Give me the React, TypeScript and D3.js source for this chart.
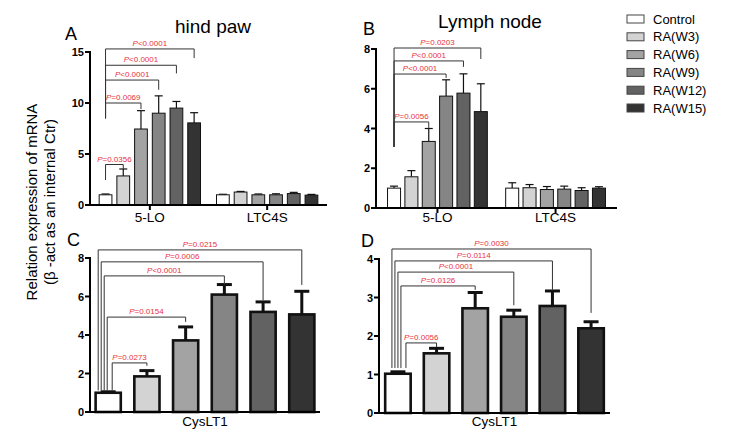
import React from "react";
import * as d3 from "d3";

const series = ["Control", "RA(W3)", "RA(W6)", "RA(W9)", "RA(W12)", "RA(W15)"];
const fills = ["#ffffff", "#d3d3d3", "#a3a3a3", "#858585", "#626262", "#333333"];

// Panel A: hind paw
const aGroups = ["5-LO", "LTC4S"];
const aMeans = [
  [1.0, 2.85, 7.45, 9.0, 9.5, 8.05],
  [1.0, 1.27, 1.0, 1.0, 1.12, 0.97],
];
const aErrors = [
  [0.08, 0.68, 1.8, 1.7, 0.65, 1.0],
  [0.05, 0.06, 0.08, 0.1, 0.12, 0.07],
];
const aTicks = [0, 5, 10, 15];

// Panel B: lymph node
const bGroups = ["5-LO", "LTC4S"];
const bMeans = [
  [1.0, 1.57, 3.35, 5.63, 5.78, 4.85],
  [1.0, 1.02, 0.93, 0.95, 0.88, 1.0],
];
const bErrors = [
  [0.1, 0.31, 0.65, 0.82, 0.97, 1.4],
  [0.27, 0.16, 0.15, 0.15, 0.14, 0.07],
];
const bTicks = [0, 2, 4, 6, 8];

// Panel C: CysLT1 hind paw
const cGroups = ["CysLT1"];
const cMeans = [[1.0, 1.85, 3.72, 6.1, 5.2, 5.07]];
const cErrors = [[0.05, 0.3, 0.7, 0.52, 0.52, 1.2]];
const cTicks = [0, 2, 4, 6, 8];

// Panel D: CysLT1 lymph node
const dGroups = ["CysLT1"];
const dMeans = [[1.02, 1.55, 2.72, 2.5, 2.78, 2.2]];
const dErrors = [[0.05, 0.13, 0.41, 0.17, 0.39, 0.17]];
const dTicks = [0, 1, 2, 3, 4];

// Significance brackets: target series, label, heights in data units
type Bracket = { target: number; label: string; top: number; leftEnd: number; rightEnd: number; shift: number };
const aBrackets: Bracket[] = [
  { target: 1, label: "=0.0356", top: 3.97, leftEnd: 2.45, rightEnd: 3.53, shift: 0 },
  { target: 2, label: "=0.0069", top: 10.0, leftEnd: 8.5, rightEnd: 9.4, shift: 0 },
  { target: 3, label: "<0.0001", top: 12.25, leftEnd: 8.5, rightEnd: 11.3, shift: 0 },
  { target: 4, label: "<0.0001", top: 13.7, leftEnd: 8.5, rightEnd: 12.9, shift: 0 },
  { target: 5, label: "<0.0001", top: 15.3, leftEnd: 8.5, rightEnd: 14.4, shift: 0 },
];
const bBrackets: Bracket[] = [
  { target: 2, label: "=0.0056", top: 4.33, leftEnd: 3.07, rightEnd: 4.0, shift: 0 },
  { target: 3, label: "<0.0001", top: 6.74, leftEnd: 3.07, rightEnd: 6.55, shift: 0 },
  { target: 4, label: "<0.0001", top: 7.4, leftEnd: 3.07, rightEnd: 7.1, shift: 0 },
  { target: 5, label: "=0.0203", top: 8.05, leftEnd: 3.07, rightEnd: 7.5, shift: 0 },
];
const cBrackets: Bracket[] = [
  { target: 1, label: "=0.0273", top: 2.55, leftEnd: 1.12, rightEnd: 2.4, shift: 4 },
  { target: 2, label: "=0.0154", top: 4.93, leftEnd: 1.12, rightEnd: 4.68, shift: -1 },
  { target: 3, label: "<0.0001", top: 7.07, leftEnd: 1.12, rightEnd: 6.6, shift: -4 },
  { target: 4, label: "=0.0006", top: 7.8, leftEnd: 1.12, rightEnd: 5.8, shift: -7 },
  { target: 5, label: "=0.0215", top: 8.42, leftEnd: 1.12, rightEnd: 6.6, shift: -10 },
];
const dBrackets: Bracket[] = [
  { target: 1, label: "=0.0056", top: 1.82, leftEnd: 1.17, rightEnd: 1.71, shift: 8 },
  { target: 2, label: "=0.0126", top: 3.3, leftEnd: 1.17, rightEnd: 3.2, shift: 3 },
  { target: 3, label: "<0.0001", top: 3.66, leftEnd: 1.17, rightEnd: 2.8, shift: 0 },
  { target: 4, label: "=0.0114", top: 3.95, leftEnd: 1.17, rightEnd: 3.2, shift: -3 },
  { target: 5, label: "=0.0030", top: 4.26, leftEnd: 1.17, rightEnd: 2.6, shift: -6 },
];

const FONT = "Arial, 'Liberation Sans', Helvetica, sans-serif";
const RED = "#e8323c";

type PanelProps = {
  groups: string[];
  means: number[][];
  errors: number[][];
  ticks: number[];
  frame: { left: number; right: number; top: number; bottom: number };
  gPadInner: number;
  gPadOuter: number;
  bPadInner: number;
  bPadOuter: number;
  barStroke: number;
  errStroke: number;
  capHalf: number;
  brackets: Bracket[];
  xTicks: boolean;
  labelY: number;
};

function Panel(p: PanelProps) {
  const { frame } = p;
  const yMax = p.ticks[p.ticks.length - 1];
  const y = d3.scaleLinear().domain([0, yMax]).range([frame.bottom, frame.top]);
  const xg = d3
    .scaleBand<string>()
    .domain(p.groups)
    .range([frame.left, frame.right])
    .paddingInner(p.gPadInner)
    .paddingOuter(p.gPadOuter);
  const xs = d3
    .scaleBand<string>()
    .domain(series)
    .range([0, xg.bandwidth()])
    .paddingInner(p.bPadInner)
    .paddingOuter(p.bPadOuter);
  const bw = xs.bandwidth();
  const g0 = p.groups[0];
  const cx = (i: number) => (xg(g0) as number) + (xs(series[i]) as number) + bw / 2;

  return (
    <g>
      {p.groups.map((g, gi) =>
        series.map((s, si) => {
          const x0 = (xg(g) as number) + (xs(s) as number);
          const v = p.means[gi][si];
          const e = p.errors[gi][si];
          const mx = x0 + bw / 2;
          return (
            <g key={g + s}>
              <line x1={mx} x2={mx} y1={y(v)} y2={y(v + e)} stroke="#111" strokeWidth={p.errStroke} />
              <line x1={mx - p.capHalf} x2={mx + p.capHalf} y1={y(v + e)} y2={y(v + e)} stroke="#111" strokeWidth={p.errStroke} />
              <rect x={x0} y={y(v)} width={bw} height={y(0) - y(v)} fill={fills[si]} stroke="#111" strokeWidth={p.barStroke} />
            </g>
          );
        })
      )}
      {/* y axis */}
      <line x1={frame.left} x2={frame.left} y1={frame.top - 1} y2={frame.bottom + 1} stroke="#000" strokeWidth={2} />
      {p.ticks.map((t) => (
        <g key={t}>
          <line x1={frame.left - 5} x2={frame.left} y1={y(t)} y2={y(t)} stroke="#000" strokeWidth={2} />
          <text x={frame.left - 6} y={y(t) + 4} textAnchor="end" fontSize={11} fontWeight="bold" fontFamily={FONT}>
            {t}
          </text>
        </g>
      ))}
      {/* x axis */}
      <line x1={frame.left - 1} x2={frame.right} y1={frame.bottom} y2={frame.bottom} stroke="#000" strokeWidth={2} />
      {p.groups.map((g) => {
        const gx = (xg(g) as number) + xg.bandwidth() / 2;
        return (
          <g key={g}>
            {p.xTicks && <line x1={gx} x2={gx} y1={frame.bottom} y2={frame.bottom + 5} stroke="#000" strokeWidth={2} />}
            <text x={gx} y={p.labelY} textAnchor="middle" fontSize={13.5} fontFamily={FONT}>
              {g}
            </text>
          </g>
        );
      })}
      {/* brackets */}
      {p.brackets.map((b, i) => {
        const lx = cx(0) + b.shift;
        const rx = cx(b.target);
        const ty = y(b.top);
        return (
          <g key={i}>
            <path
              d={`M${lx},${y(b.leftEnd)}V${ty}H${rx}V${y(b.rightEnd)}`}
              fill="none"
              stroke="#333"
              strokeWidth={1}
            />
            <text x={(lx + rx) / 2} y={ty - 3} textAnchor="middle" fontSize={8} fill={RED} fontFamily={FONT}>
              <tspan fontStyle="italic">P</tspan>
              {b.label}
            </text>
          </g>
        );
      })}
    </g>
  );
}

export default function App() {
  return (
    <svg width={740} height={438} style={{ position: "absolute", left: 0, top: 0, background: "#fff" }} fontFamily={FONT}>
      <rect width={740} height={438} fill="#fff" />
      <Panel
        groups={aGroups}
        means={aMeans}
        errors={aErrors}
        ticks={aTicks}
        frame={{ left: 90, right: 327, top: 52, bottom: 205 }}
        gPadInner={0.1}
        gPadOuter={0.06}
        bPadInner={0.28}
        bPadOuter={0.12}
        barStroke={1}
        errStroke={1.2}
        capHalf={4}
        brackets={aBrackets}
        xTicks={true}
        labelY={222}
      />
      <Panel
        groups={bGroups}
        means={bMeans}
        errors={bErrors}
        ticks={bTicks}
        frame={{ left: 376, right: 617, top: 49, bottom: 208 }}
        gPadInner={0.12}
        gPadOuter={0.08}
        bPadInner={0.25}
        bPadOuter={0.12}
        barStroke={1}
        errStroke={1.2}
        capHalf={4}
        brackets={bBrackets}
        xTicks={true}
        labelY={222}
      />
      <Panel
        groups={cGroups}
        means={cMeans}
        errors={cErrors}
        ticks={cTicks}
        frame={{ left: 90, right: 320, top: 258, bottom: 412 }}
        gPadInner={0}
        gPadOuter={0}
        bPadInner={0.35}
        bPadOuter={0.145}
        barStroke={2.6}
        errStroke={3}
        capHalf={7.5}
        brackets={cBrackets}
        xTicks={false}
        labelY={426}
      />
      <Panel
        groups={dGroups}
        means={dMeans}
        errors={dErrors}
        ticks={dTicks}
        frame={{ left: 379, right: 610, top: 259, bottom: 413 }}
        gPadInner={0}
        gPadOuter={0}
        bPadInner={0.34}
        bPadOuter={0.16}
        barStroke={2.6}
        errStroke={3}
        capHalf={7.5}
        brackets={dBrackets}
        xTicks={false}
        labelY={426}
      />
      {/* titles and panel letters */}
      <text x={213} y={33} textAnchor="middle" fontSize={19}>hind paw</text>
      <text x={490} y={28} textAnchor="middle" fontSize={19}>Lymph node</text>
      <text x={65} y={40} fontSize={18}>A</text>
      <text x={363} y={35} fontSize={18}>B</text>
      <text x={67} y={246} fontSize={18}>C</text>
      <text x={361} y={247} fontSize={18}>D</text>
      {/* y label */}
      <text transform="translate(37,202) rotate(-90)" textAnchor="middle" fontSize={15}>
        Relation expression of mRNA
      </text>
      <text transform="translate(55,202) rotate(-90)" textAnchor="middle" fontSize={15}>
        (β -act as an internal Ctr)
      </text>
      {/* legend */}
      {series.map((s, i) => (
        <g key={s}>
          <rect x={627} y={15 + i * 17.8} width={17} height={8} fill={fills[i]} stroke="#444" strokeWidth={1} />
          <text x={653} y={23.5 + i * 17.8} fontSize={13}>
            {s}
          </text>
        </g>
      ))}
    </svg>
  );
}
